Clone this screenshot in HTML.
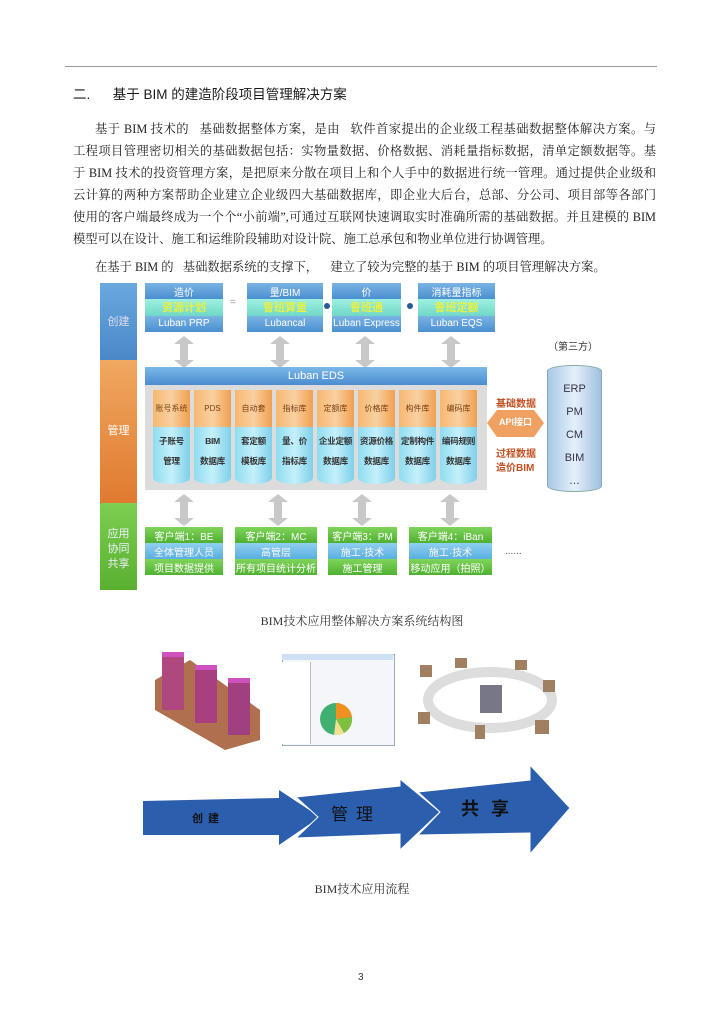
<!DOCTYPE html>
<html><head><meta charset="utf-8"><style>
body{margin:0;width:724px;height:1024px;background:#fff;position:relative;font-family:"Liberation Sans","Noto Sans CJK SC",sans-serif;overflow:hidden}
.a{position:absolute}
.ln{position:absolute;left:73px;width:583px;font-size:12.3px;color:#222;text-align:justify;text-align-last:justify;white-space:nowrap;font-family:"Liberation Serif","Noto Serif CJK SC",serif}
.c{text-align:center;color:#fff;font-size:10px;line-height:1}
.bx{position:absolute;display:flex;flex-direction:column}
.bx div{flex:1;display:flex;align-items:center;justify-content:center;font-size:10px;color:#fff;white-space:nowrap}
.h{background:linear-gradient(#7ab3e4,#4a8fd0)}
.g{background:linear-gradient(#9ff0e0,#6fd8c8);color:#e8f040!important;font-weight:bold;font-size:11px!important}
.gr{background:linear-gradient(#7fd45a,#4fb030)}
.bl{background:linear-gradient(#8fd0f0,#5aaee0);color:#f8f8f8!important}
.cyl{position:absolute;width:37px;top:390px;height:97px}
.cyl .o{position:absolute;left:0;top:0;width:37px;height:37px;background:linear-gradient(90deg,#f6b870,#f9d0a0,#f0a050);border-radius:18px/6px 18px/6px 0 0;font-size:8px;color:#7a4010;display:flex;align-items:center;justify-content:center;white-space:nowrap}
.cyl .b{position:absolute;left:0;top:37px;width:37px;height:57px;background:linear-gradient(90deg,#8fdcf0,#c4f0fa,#7fd0ea);border-radius:0 0 18px 18px/0 0 6px 6px;font-size:8.6px;color:#333;font-weight:bold;text-align:center;line-height:20px;padding-top:4px;box-sizing:border-box;white-space:nowrap;letter-spacing:-0.3px}
</style></head><body>
<div class="a" style="left:65px;top:66px;width:592px;height:1px;background:#999"></div>
<div class="a" style="left:73px;top:83px;font-size:13.5px;color:#1a1a1a">二.&nbsp;&nbsp;&nbsp;&nbsp;&nbsp;&nbsp;基于 BIM 的建造阶段项目管理解决方案</div>
<div class="ln" style="top:119px;left:95px;width:561px">基于 BIM 技术的&nbsp;&nbsp;&nbsp;基础数据整体方案，是由&nbsp;&nbsp;&nbsp;软件首家提出的企业级工程基础数据整体解决方案。与</div>
<div class="ln" style="top:141px">工程项目管理密切相关的基础数据包括：实物量数据、价格数据、消耗量指标数据，清单定额数据等。基</div>
<div class="ln" style="top:163px">于 BIM 技术的投资管理方案，是把原来分散在项目上和个人手中的数据进行统一管理。通过提供企业级和</div>
<div class="ln" style="top:185px">云计算的两种方案帮助企业建立企业级四大基础数据库，即企业大后台，总部、分公司、项目部等各部门</div>
<div class="ln" style="top:207px">使用的客户端最终成为一个个“小前端”,可通过互联网快速调取实时准确所需的基础数据。并且建模的 BIM</div>
<div class="ln" style="top:229px;width:auto;text-align-last:auto">模型可以在设计、施工和运维阶段辅助对设计院、施工总承包和物业单位进行协调管理。</div>
<div class="ln" style="top:257px;left:95px;width:auto;text-align-last:auto">在基于 BIM 的&nbsp;&nbsp;&nbsp;基础数据系统的支撑下，&nbsp;&nbsp;&nbsp;&nbsp;建立了较为完整的基于 BIM 的项目管理解决方案。</div>

<div class="a" style="left:100px;top:283px;width:37px;height:77px;background:linear-gradient(#6aa8e0,#4a88c8)"></div>
<div class="a" style="left:100px;top:360px;width:37px;height:143px;background:linear-gradient(#f0a860,#e07a30)"></div>
<div class="a" style="left:100px;top:503px;width:37px;height:87px;background:linear-gradient(#7ccf50,#5ab030)"></div>
<div class="a c" style="left:100px;top:317px;width:37px;font-size:11px;color:#dde">创建</div>
<div class="a c" style="left:100px;top:426px;width:37px;font-size:11px">管理</div>
<div class="a c" style="left:100px;top:527px;width:37px;font-size:11px;line-height:15px;color:#eef">应用<br>协同<br>共享</div>

<div class="bx" style="left:145px;top:283px;width:78px;height:49px"><div class="h">造价</div><div class="g">资源计划</div><div class="h">Luban PRP</div></div>
<div class="bx" style="left:247px;top:283px;width:76px;height:49px"><div class="h">量/BIM</div><div class="g">鲁班算量</div><div class="h">Lubancal</div></div>
<div class="bx" style="left:332px;top:283px;width:69px;height:49px"><div class="h">价</div><div class="g">鲁班通</div><div class="h">Luban Express</div></div>
<div class="bx" style="left:418px;top:283px;width:77px;height:49px"><div class="h">消耗量指标</div><div class="g">鲁班定额</div><div class="h">Luban EQS</div></div>
<div class="a" style="left:230px;top:297px;font-size:10px;color:#999">=</div>
<div class="a" style="left:324px;top:303px;width:6px;height:6px;border-radius:3px;background:#2a5a9a"></div>
<div class="a" style="left:407px;top:303px;width:6px;height:6px;border-radius:3px;background:#2a5a9a"></div>

<svg class="a" style="left:0;top:0" width="724" height="1024">
<defs><g id="ar"><polygon points="0,8 10,0 20,8 14,8 14,24 20,24 10,32 0,24 6,24 6,8" fill="#c8c8c8"/></g></defs>
<use href="#ar" x="174" y="336"/><use href="#ar" x="270" y="336"/><use href="#ar" x="355" y="336"/><use href="#ar" x="441" y="336"/>
<use href="#ar" x="174" y="494"/><use href="#ar" x="268" y="494"/><use href="#ar" x="352" y="494"/><use href="#ar" x="440" y="494"/>
<polygon points="487,423 497,410 534,410 544,423 534,437 497,437" fill="#f0a060"/>
<polygon points="143,801 279,798 279,790 320,817 279,845 279,835 143,835" fill="#2b5fae"/>
<polygon points="296,797 400,786 400,779 440,812 400,850 400,834 296,838 318,817" fill="#2b5fae" stroke="#fff" stroke-width="1"/>
<polygon points="418,792 530,780 530,765 570,808 530,854 530,833 418,835 440,812" fill="#2b5fae" stroke="#fff" stroke-width="1"/>
</svg>
<div class="a c" style="left:487px;top:418px;width:57px;font-size:9px;font-weight:bold">API接口</div>
<div class="a" style="left:496px;top:395px;font-size:10px;color:#c05020;font-weight:bold">基础数据</div>
<div class="a" style="left:496px;top:448px;font-size:10px;color:#c05020;font-weight:bold;line-height:14px">过程数据<br>造价BIM</div>

<div class="a c" style="left:145px;top:367px;width:342px;height:18px;line-height:18px;background:linear-gradient(#7ab8e8,#4a8cd0);font-size:11px">Luban EDS</div>
<div class="a" style="left:145px;top:385px;width:342px;height:105px;background:#dcdcdc"></div>
<div class="cyl" style="left:153px"><div class="o">账号系统</div><div class="b">子账号<br>管理</div></div>
<div class="cyl" style="left:194px"><div class="o">PDS</div><div class="b">BIM<br>数据库</div></div>
<div class="cyl" style="left:235px"><div class="o">自动套</div><div class="b">套定额<br>模板库</div></div>
<div class="cyl" style="left:276px"><div class="o">指标库</div><div class="b">量、价<br>指标库</div></div>
<div class="cyl" style="left:317px"><div class="o">定额库</div><div class="b">企业定额<br>数据库</div></div>
<div class="cyl" style="left:358px"><div class="o">价格库</div><div class="b">资源价格<br>数据库</div></div>
<div class="cyl" style="left:399px"><div class="o">构件库</div><div class="b">定制构件<br>数据库</div></div>
<div class="cyl" style="left:440px"><div class="o">编码库</div><div class="b">编码规则<br>数据库</div></div>

<div class="a" style="left:548px;top:338px;font-size:10px;color:#333">（第三方）</div>
<div class="a" style="left:547px;top:365px;width:53px;height:125px;background:linear-gradient(90deg,#a8c8e8,#e4f0fa,#a0c0e0);border-radius:26px/6px;border:1px solid #8aa"></div>
<div class="a c" style="left:547px;top:378px;width:55px;color:#334;font-size:11px;line-height:23px">ERP<br>PM<br>CM<br>BIM<br>…</div>

<div class="bx" style="left:145px;top:527px;width:78px;height:48px"><div class="gr">客户端1：BE</div><div class="bl">全体管理人员</div><div class="gr">项目数据提供</div></div>
<div class="bx" style="left:235px;top:527px;width:82px;height:48px"><div class="gr">客户端2：MC</div><div class="bl">高管层</div><div class="gr">所有项目统计分析</div></div>
<div class="bx" style="left:328px;top:527px;width:69px;height:48px"><div class="gr">客户端3：PM</div><div class="bl">施工·技术</div><div class="gr">施工管理</div></div>
<div class="bx" style="left:409px;top:527px;width:83px;height:48px"><div class="gr">客户端4：iBan</div><div class="bl">施工·技术</div><div class="gr">移动应用（拍照）</div></div>
<div class="a" style="left:505px;top:546px;font-size:10px;color:#555">......</div>

<div class="a" style="left:0;width:724px;top:612px;text-align:center;font-size:12px;color:#333;font-family:'Liberation Serif','Noto Serif CJK SC',serif">BIM技术应用整体解决方案系统结构图</div>

<svg class="a" style="left:150px;top:650px" width="110" height="100">
<polygon points="5,30 40,10 110,60 110,90 75,100 5,60" fill="#b07050"/>
<rect x="12" y="5" width="22" height="55" fill="#b04880"/><rect x="45" y="18" width="22" height="55" fill="#a84080"/><rect x="78" y="30" width="22" height="55" fill="#a04080"/>
<rect x="12" y="2" width="22" height="5" fill="#d050c0"/><rect x="45" y="15" width="22" height="5" fill="#d050c0"/><rect x="78" y="28" width="22" height="5" fill="#d050c0"/>
</svg>
<div class="a" style="left:282px;top:654px;width:111px;height:90px;background:#f4f6fa;border:1px solid #9ab"></div>
<div class="a" style="left:282px;top:654px;width:111px;height:6px;background:#cfe0f4"></div>
<div class="a" style="left:282px;top:662px;width:28px;height:82px;background:#fff;border-right:1px solid #bbb"></div>
<svg class="a" style="left:318px;top:700px" width="40" height="38"><circle cx="18" cy="19" r="16" fill="#40b070"/><path d="M18,19 L18,3 A16,16 0 0 1 34,17 Z" fill="#f09020"/><path d="M18,19 L34,17 A16,16 0 0 1 26,33Z" fill="#80c040"/><path d="M18,19 L26,33 A16,16 0 0 1 16,35Z" fill="#f0e090"/></svg>
<svg class="a" style="left:415px;top:650px" width="150" height="100">
<ellipse cx="75" cy="50" rx="62" ry="28" fill="none" stroke="#ddd" stroke-width="10"/>
<rect x="65" y="35" width="22" height="28" fill="#778"/>
<g fill="#a08060"><rect x="5" y="15" width="12" height="12"/><rect x="40" y="8" width="12" height="10"/><rect x="100" y="10" width="12" height="10"/><rect x="128" y="30" width="12" height="12"/><rect x="3" y="62" width="12" height="12"/><rect x="120" y="70" width="14" height="14"/><rect x="60" y="75" width="10" height="14"/></g>
</svg>

<div class="a" style="left:192px;top:810px;font-size:11px;color:#111;letter-spacing:5px;font-weight:bold">创建</div>
<div class="a" style="left:331px;top:800px;font-size:17px;color:#111;letter-spacing:8px">管理</div>
<div class="a" style="left:461px;top:795px;font-size:18px;color:#111;letter-spacing:12px;font-weight:bold">共享</div>

<div class="a" style="left:0;width:724px;top:880px;text-align:center;font-size:12px;color:#333;font-family:'Liberation Serif','Noto Serif CJK SC',serif">BIM技术应用流程</div>
<div class="a" style="left:358px;top:972px;font-size:10px;color:#333">3</div>
</body></html>
